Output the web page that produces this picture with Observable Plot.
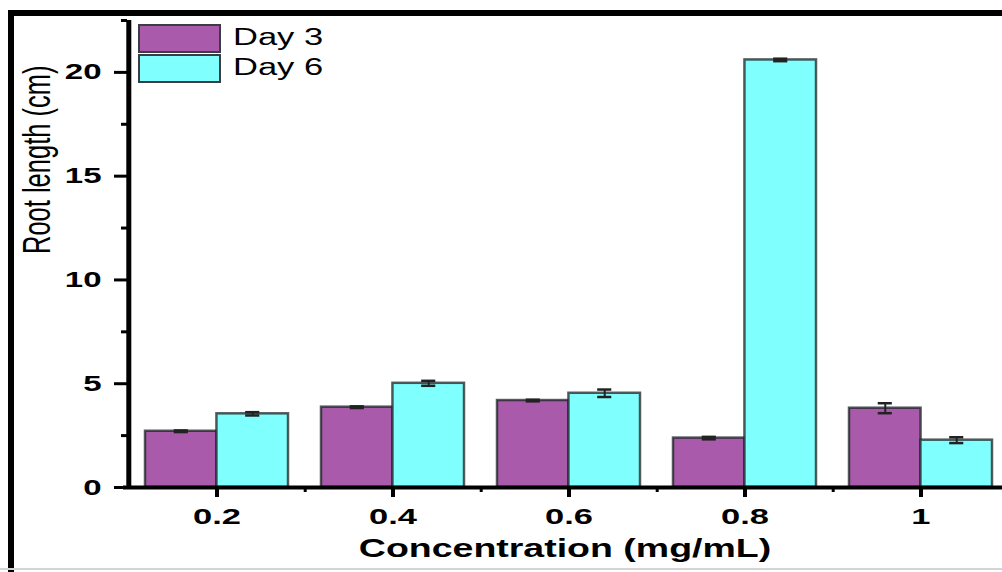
<!DOCTYPE html>
<html>
<head>
<meta charset="utf-8">
<script src="https://cdn.jsdelivr.net/npm/d3@7"></script>
<script src="https://cdn.jsdelivr.net/npm/@observablehq/plot@0.6"></script>
<style>
  html, body { margin: 0; padding: 0; background: #fff; overflow: hidden; }
  #wrap { position: relative; width: 1002px; height: 572px; overflow: hidden; background: #fff; }
  #border { position: absolute; left: 8px; top: 10px; width: 1100px; height: 700px;
            border-top: 6px solid #000; border-left: 6px solid #000; pointer-events: none; }
  #baseline { position: absolute; left: 0; top: 568px; width: 1002px; height: 2px; background: #d4d4d4; }
  #chart { position: absolute; left: 0; top: 0; }
  .legend-swatch { position: absolute; left: 138px; width: 79px; height: 25px; border: 2px solid #3c3c44; }
  .legend-label { position: absolute; left: 233px; font: 23px "Liberation Sans", Arial, sans-serif;
                  line-height: 23px; color: #000; transform: scaleX(1.5); transform-origin: left center; white-space: nowrap; }
</style>
</head>
<body>
<div id="wrap">
  <div id="chart"></div>
  <div id="legend"></div>
  <div id="border"></div>
  <div id="baseline"></div>
</div>
<script>
// Root length measured on day 3 and day 6 for each concentration (mean ± error)
const concentrations = ["0.2", "0.4", "0.6", "0.8", "1"];
const day3 = [2.71, 3.87, 4.19, 2.38, 3.82];
const day3Err = [0.04, 0.04, 0.04, 0.06, 0.24];
const day6 = [3.55, 5.02, 4.54, 20.6, 2.28];
const day6Err = [0.08, 0.12, 0.18, 0.06, 0.14];
const seriesNames = ["Day 3", "Day 6"];
const yTicks = [0, 5, 10, 15, 20];
const yMinorTicks = [2.5, 7.5, 12.5, 17.5, 22.5];

const colors = { "Day 3": "#aa5aab", "Day 6": "#80ffff" };
const edge = "#1c2326";
const font = '"Liberation Sans", Arial, sans-serif';

const rows = concentrations.map((conc, i) => ({
  conc, day3: day3[i], day3Err: day3Err[i], day6: day6[i], day6Err: day6Err[i]
}));

const xOptions = {
  type: "band", domain: concentrations, range: [127, 1009],
  paddingInner: 0.19, paddingOuter: 0.095
};
const xs = Plot.scale({ x: xOptions });
const step = xs.step, bw = xs.bandwidth;
const half = bw / 2, quarter = bw / 4, capHalf = 7;

const chart = Plot.plot({
  width: 1002,
  height: 572,
  marginTop: 20,
  marginBottom: 85,
  marginLeft: 127,
  marginRight: 0,
  style: { fontFamily: font, background: "transparent" },
  x: { ...xOptions, axis: null, label: null },
  y: { domain: [0, 22.5], axis: null, label: null },
  marks: [
    // grouped bars: day 3 on the left half of each band, day 6 on the right half
    Plot.barY(rows, { x: "conc", y: "day3", fill: colors["Day 3"], stroke: edge, strokeOpacity: 0.75, strokeWidth: 2.5, insetRight: half }),
    Plot.barY(rows, { x: "conc", y: "day6", fill: colors["Day 6"], stroke: edge, strokeOpacity: 0.75, strokeWidth: 2.5, insetLeft: half }),

    // error bars
    Plot.ruleX(rows, { x: "conc", y1: d => d.day3 - d.day3Err, y2: d => d.day3 + d.day3Err, dx: -quarter, stroke: "#222", strokeWidth: 2 }),
    Plot.ruleX(rows, { x: "conc", y1: d => d.day6 - d.day6Err, y2: d => d.day6 + d.day6Err, dx: quarter, stroke: "#222", strokeWidth: 2 }),
    Plot.tickY(rows, { x: "conc", y: d => d.day3 + d.day3Err, insetLeft: quarter - capHalf, insetRight: 3 * quarter - capHalf, stroke: "#222", strokeWidth: 2.5 }),
    Plot.tickY(rows, { x: "conc", y: d => d.day3 - d.day3Err, insetLeft: quarter - capHalf, insetRight: 3 * quarter - capHalf, stroke: "#222", strokeWidth: 2.5 }),
    Plot.tickY(rows, { x: "conc", y: d => d.day6 + d.day6Err, insetLeft: 3 * quarter - capHalf, insetRight: quarter - capHalf, stroke: "#222", strokeWidth: 2.5 }),
    Plot.tickY(rows, { x: "conc", y: d => d.day6 - d.day6Err, insetLeft: 3 * quarter - capHalf, insetRight: quarter - capHalf, stroke: "#222", strokeWidth: 2.5 }),

    // y axis: line, major ticks with labels, minor ticks
    Plot.ruleX([concentrations[0]], { x: d => d, dx: -step / 2, y1: 0, y2: 22.5, stroke: "#000", strokeWidth: 5 }),
    Plot.axisY({ ticks: yTicks, tickSize: 13, tickPadding: 13, strokeWidth: 3, fontSize: 22, fontWeight: "bold", label: null }),
    Plot.axisY({ ticks: yMinorTicks, tickSize: 6, strokeWidth: 3, tickFormat: () => "", label: null }),

    // x axis: line, major ticks at each concentration, minor ticks between groups
    Plot.ruleY([0], { stroke: "#000", strokeWidth: 4, insetLeft: -4 }),
    Plot.axisX({ tickSize: 10, tickPadding: 10, strokeWidth: 4, fontSize: 23, fontWeight: "bold", label: null }),
    Plot.axisX(concentrations, { tickSize: 5, dx: step / 2, strokeWidth: 3, tickFormat: () => "", label: null }),

    // axis titles
    Plot.text(["Concentration (mg/mL)"], { frameAnchor: "bottom", dy: 69, fontSize: 25, fontWeight: "bold", fill: "#000" }),
    Plot.text(["Root length (cm)"], { frameAnchor: "left", dx: -90, rotate: -90, fontSize: 25.5, fill: "#000" })
  ]
});

document.getElementById("chart").appendChild(chart);

// widen every label horizontally around its anchor
function widenText(svg, k) {
  const svgRect = svg.getBoundingClientRect();
  svg.querySelectorAll("text").forEach(t => {
    if (!t.textContent.trim()) return;
    const r = t.getBoundingClientRect();
    const anchor = getComputedStyle(t).getPropertyValue("text-anchor");
    const rotated = (t.getAttribute("transform") || "").includes("rotate");
    let cx = rotated ? (r.left + r.right) / 2
      : anchor === "end" ? r.right
      : anchor === "start" ? r.left
      : (r.left + r.right) / 2;
    cx -= svgRect.left;
    const parent = t.parentNode;
    const ctm = parent.getCTM();
    const lx = (cx - ctm.e) / ctm.a;
    const g = document.createElementNS("http://www.w3.org/2000/svg", "g");
    g.setAttribute("transform", `translate(${lx},0) scale(${k},1) translate(${-lx},0)`);
    parent.insertBefore(g, t);
    g.appendChild(t);
  });
}
widenText(chart, 1.5);

// legend in the upper-left corner of the plot area
const legend = document.getElementById("legend");
seriesNames.forEach((name, i) => {
  const sw = document.createElement("div");
  sw.className = "legend-swatch";
  sw.style.top = (24 + i * 30) + "px";
  sw.style.background = colors[name];
  legend.appendChild(sw);
  const lab = document.createElement("div");
  lab.className = "legend-label";
  lab.style.top = (25.5 + i * 30) + "px";
  lab.textContent = name;
  legend.appendChild(lab);
});
</script>
</body>
</html>
